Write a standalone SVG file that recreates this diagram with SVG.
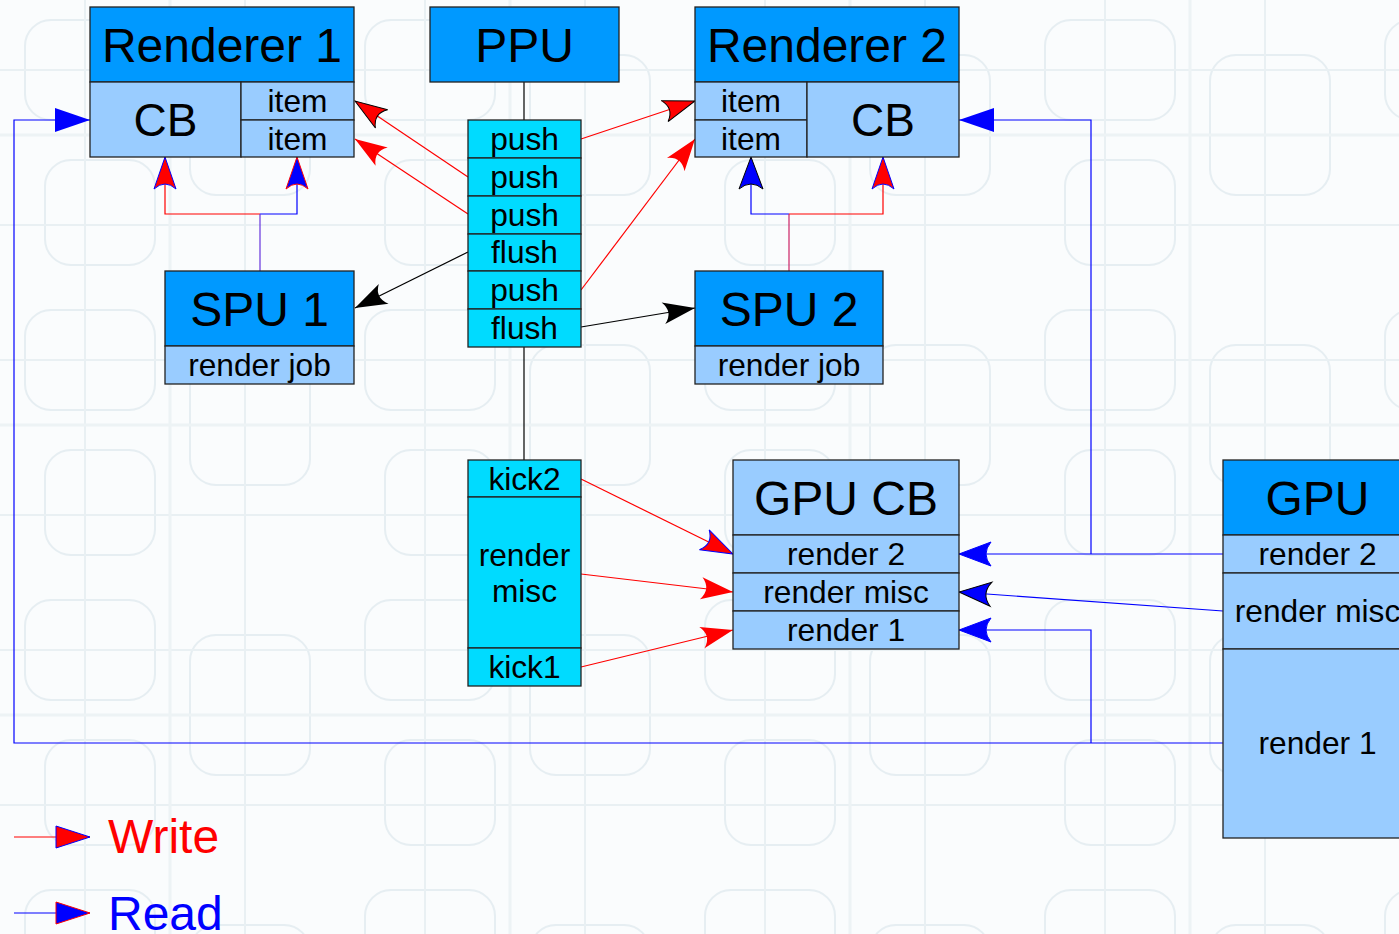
<svg xmlns="http://www.w3.org/2000/svg" width="1399" height="934" viewBox="0 0 1399 934">
<style>
.hdr{fill:#0099ff;stroke:#222;stroke-width:1.3}
.lt{fill:#99ccff;stroke:#222;stroke-width:1.3}
.cy{fill:#00dbff;stroke:#222;stroke-width:1.3}
text{font-family:"Liberation Sans",Arial,sans-serif;fill:#000;text-anchor:middle}
.big{font-size:48px}
.cb{font-size:46px}
.sm{font-size:31.7px}
.w{stroke:#ff0000;stroke-width:1.2;fill:none}
.r{stroke:#0000ff;stroke-width:1.2;fill:none}
.k{stroke:#000;stroke-width:1.2;fill:none}
.bgl{fill:none;stroke:#e6eef2;stroke-width:2}
</style>
<defs>
<pattern id="bgp" width="340" height="290" patternUnits="userSpaceOnUse">
<rect width="340" height="290" fill="#fafcfd"/>
<rect x="25" y="20" width="130" height="100" rx="26" class="bgl"/>
<rect x="190" y="55" width="120" height="140" rx="26" class="bgl"/>
<rect x="45" y="160" width="110" height="105" rx="26" class="bgl"/>
<path d="M0 70 H340 M0 225 H340 M85 0 V290 M245 0 V290" stroke="#e9f0f3" stroke-width="2" fill="none"/>
<path d="M0 135 H340 M170 0 V290" stroke="#edf3f5" stroke-width="3" fill="none"/>
</pattern>
<marker id="mRed" markerUnits="userSpaceOnUse" markerWidth="40" markerHeight="30" viewBox="-38 -15 40 30" refX="0" refY="0" orient="auto" overflow="visible"><path d="M0,0 L-32,-11 Q-22,0 -32,11 Z" fill="#ff0000"/></marker>
<marker id="mRedK" markerUnits="userSpaceOnUse" markerWidth="40" markerHeight="30" viewBox="-38 -15 40 30" refX="0" refY="0" orient="auto" overflow="visible"><path d="M0,0 L-32,-11 Q-22,0 -32,11 Z" fill="#ff0000" stroke="#000" stroke-width="1"/></marker>
<marker id="mRedB" markerUnits="userSpaceOnUse" markerWidth="40" markerHeight="30" viewBox="-38 -15 40 30" refX="0" refY="0" orient="auto" overflow="visible"><path d="M0,0 L-32,-11 Q-22,0 -32,11 Z" fill="#ff0000" stroke="#0000ff" stroke-width="1"/></marker>
<marker id="mBlue" markerUnits="userSpaceOnUse" markerWidth="40" markerHeight="30" viewBox="-38 -15 40 30" refX="0" refY="0" orient="auto" overflow="visible"><path d="M0,0 L-32,-12 Q-22,0 -32,12 Z" fill="#0000ff" stroke="#0000ff" stroke-width="1"/></marker>
<marker id="mBlueK" markerUnits="userSpaceOnUse" markerWidth="40" markerHeight="30" viewBox="-38 -15 40 30" refX="0" refY="0" orient="auto" overflow="visible"><path d="M0,0 L-32,-12 Q-22,0 -32,12 Z" fill="#0000ff" stroke="#000" stroke-width="1"/></marker>
<marker id="mBlueR" markerUnits="userSpaceOnUse" markerWidth="40" markerHeight="30" viewBox="-38 -15 40 30" refX="0" refY="0" orient="auto" overflow="visible"><path d="M0,0 L-32,-11 Q-22,0 -32,11 Z" fill="#0000ff" stroke="#ff0000" stroke-width="1"/></marker>
<marker id="mBlack" markerUnits="userSpaceOnUse" markerWidth="40" markerHeight="30" viewBox="-38 -15 40 30" refX="0" refY="0" orient="auto" overflow="visible"><path d="M0,0 L-32,-11 Q-22,0 -32,11 Z" fill="#000"/></marker>
<marker id="tBlue" markerUnits="userSpaceOnUse" markerWidth="40" markerHeight="30" viewBox="-38 -15 40 30" refX="0" refY="0" orient="auto" overflow="visible"><path d="M0,0 L-35,-12 L-35,12 Z" fill="#0000ff"/></marker>
<marker id="tRedB" markerUnits="userSpaceOnUse" markerWidth="40" markerHeight="30" viewBox="-38 -15 40 30" refX="0" refY="0" orient="auto" overflow="visible"><path d="M0,0 L-34,-11 L-34,11 Z" fill="#ff0000" stroke="#0000ff" stroke-width="1"/></marker>
<marker id="tBlueR" markerUnits="userSpaceOnUse" markerWidth="40" markerHeight="30" viewBox="-38 -15 40 30" refX="0" refY="0" orient="auto" overflow="visible"><path d="M0,0 L-34,-11 L-34,11 Z" fill="#0000ff" stroke="#ff0000" stroke-width="1"/></marker>
</defs>
<rect width="1399" height="934" fill="url(#bgp)"/>

<g id="connectors">
<path class="k" d="M524,82 V120 M524,347 V460"/>
<path class="w" d="M260,214 H165 V157" marker-end="url(#mRedB)"/>
<path class="r" d="M260,214 H297 V157" marker-end="url(#mBlueR)"/>
<path d="M260,271 V214" stroke="#6633dd" stroke-width="1.2" fill="none"/>
<path class="r" d="M789,214 H751 V157" marker-end="url(#mBlueK)"/>
<path class="w" d="M789,214 H883 V157" marker-end="url(#mRedB)"/>
<path d="M789,271 V214" stroke="#cc2266" stroke-width="1.2" fill="none"/>
<path class="w" d="M581,139 L695,101" marker-end="url(#mRedK)"/>
<path class="w" d="M468,177 L355,101" marker-end="url(#mRedK)"/>
<path class="w" d="M468,214 L355,139" marker-end="url(#mRed)"/>
<path class="k" d="M468,252 L355,308" marker-end="url(#mBlack)"/>
<path class="w" d="M581,290 L695,139" marker-end="url(#mRed)"/>
<path class="k" d="M581,327 L695,308" marker-end="url(#mBlack)"/>
<path class="w" d="M581,479 L733,554" marker-end="url(#mRedB)"/>
<path class="w" d="M581,574 L733,592" marker-end="url(#mRed)"/>
<path class="w" d="M581,667 L733,630" marker-end="url(#mRed)"/>
<path class="r" d="M1223,554 H959" marker-end="url(#mBlue)"/>
<path class="r" d="M1091,554 V120 H959" marker-end="url(#tBlue)"/>
<path class="r" d="M1223,611 L959,592" marker-end="url(#mBlueK)"/>
<path class="r" d="M1223,743 H14 V120 H90" marker-end="url(#tBlue)"/>
<path class="r" d="M1091,743 V630 H959" marker-end="url(#mBlue)"/>
<path class="w" d="M14,837 H90" marker-end="url(#tRedB)"/>
<path class="r" d="M14,913 H90" marker-end="url(#tBlueR)"/>
</g>

<g id="renderer1">
<rect class="hdr" x="90" y="7" width="264" height="75"/>
<text class="big" x="222" y="62">Renderer 1</text>
<rect class="lt" x="90" y="82" width="151" height="75"/>
<text class="cb" x="165.5" y="136">CB</text>
<rect class="lt" x="241" y="82" width="113" height="38"/>
<text class="sm" x="297.5" y="112">item</text>
<rect class="lt" x="241" y="120" width="113" height="37"/>
<text class="sm" x="297.5" y="150">item</text>
</g>

<g id="ppu">
<rect class="hdr" x="430" y="7" width="189" height="75"/>
<text class="big" x="524.5" y="62">PPU</text>
</g>

<g id="renderer2">
<rect class="hdr" x="695" y="7" width="264" height="75"/>
<text class="big" x="827" y="62">Renderer 2</text>
<rect class="lt" x="695" y="82" width="112" height="38"/>
<text class="sm" x="751" y="112">item</text>
<rect class="lt" x="695" y="120" width="112" height="37"/>
<text class="sm" x="751" y="150">item</text>
<rect class="lt" x="807" y="82" width="152" height="75"/>
<text class="cb" x="883" y="136">CB</text>
</g>

<g id="ppu-queue">
<rect class="cy" x="468" y="120" width="113" height="38"/>
<text class="sm" x="524.5" y="150">push</text>
<rect class="cy" x="468" y="158" width="113" height="38"/>
<text class="sm" x="524.5" y="188">push</text>
<rect class="cy" x="468" y="196" width="113" height="38"/>
<text class="sm" x="524.5" y="226">push</text>
<rect class="cy" x="468" y="234" width="113" height="37"/>
<text class="sm" x="524.5" y="263">flush</text>
<rect class="cy" x="468" y="271" width="113" height="38"/>
<text class="sm" x="524.5" y="301">push</text>
<rect class="cy" x="468" y="309" width="113" height="38"/>
<text class="sm" x="524.5" y="339">flush</text>
</g>

<g id="spu1">
<rect class="hdr" x="165" y="271" width="189" height="75"/>
<text class="big" x="259.5" y="326">SPU 1</text>
<rect class="lt" x="165" y="346" width="189" height="38"/>
<text class="sm" x="259.5" y="376">render job</text>
</g>

<g id="spu2">
<rect class="hdr" x="695" y="271" width="188" height="75"/>
<text class="big" x="789" y="326">SPU 2</text>
<rect class="lt" x="695" y="346" width="188" height="38"/>
<text class="sm" x="789" y="376">render job</text>
</g>

<g id="kick-queue">
<rect class="cy" x="468" y="460" width="113" height="37"/>
<text class="sm" x="524.5" y="490">kick2</text>
<rect class="cy" x="468" y="497" width="113" height="151"/>
<text class="sm" x="524.5" y="566">render</text>
<text class="sm" x="524.5" y="602">misc</text>
<rect class="cy" x="468" y="648" width="113" height="38"/>
<text class="sm" x="524.5" y="678">kick1</text>
</g>

<g id="gpucb">
<rect class="lt" x="733" y="460" width="226" height="75"/>
<text class="big" x="846" y="515">GPU CB</text>
<rect class="lt" x="733" y="535" width="226" height="38"/>
<text class="sm" x="846" y="565">render 2</text>
<rect class="lt" x="733" y="573" width="226" height="38"/>
<text class="sm" x="846" y="603">render misc</text>
<rect class="lt" x="733" y="611" width="226" height="38"/>
<text class="sm" x="846" y="641">render 1</text>
</g>

<g id="gpu">
<rect class="hdr" x="1223" y="460" width="189" height="75"/>
<text class="big" x="1317.5" y="515">GPU</text>
<rect class="lt" x="1223" y="535" width="189" height="38"/>
<text class="sm" x="1317.5" y="565">render 2</text>
<rect class="lt" x="1223" y="573" width="189" height="76"/>
<text class="sm" x="1317.5" y="622">render misc</text>
<rect class="lt" x="1223" y="649" width="189" height="189"/>
<text class="sm" x="1317.5" y="754">render 1</text>
</g>

<g id="legend">
<text x="108" y="853" style="font-size:48px;fill:#ff0000;text-anchor:start">Write</text>
<text x="108" y="930" style="font-size:48px;fill:#0000ff;text-anchor:start">Read</text>
</g>
</svg>
